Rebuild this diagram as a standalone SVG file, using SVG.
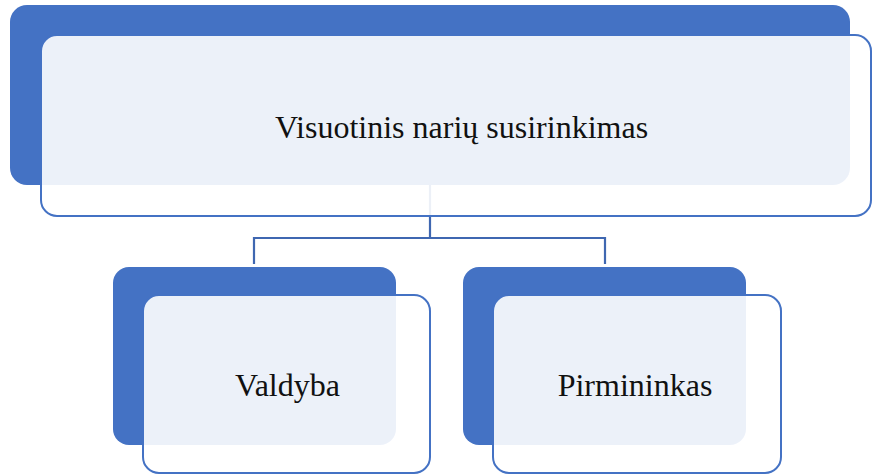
<svg xmlns="http://www.w3.org/2000/svg" width="872" height="474" viewBox="0 0 872 474">
<style>
.back{fill:#4472C4;}
.front{fill:#FFFFFF;fill-opacity:0.9;stroke:#4472C4;stroke-width:2;}
.conn{fill:none;stroke:#3F67B1;stroke-width:2.2;}
.lbl{font-family:"Liberation Serif","Times New Roman",serif;font-size:32px;fill:#111111;text-anchor:middle;}
</style>
<rect width="872" height="474" fill="#FFFFFF"/>
<g id="node-top-back"><rect class="back" x="10" y="5" width="840" height="180" rx="17"/></g>
<g id="connectors">
<path class="conn" d="M430 185 V238 M254 264 V238 H605 V264"/>
</g>
<g id="node-top"><rect class="front" x="41" y="35" width="830" height="181" rx="16"/>
<text class="lbl" x="461.5" y="137.5">Visuotinis narių susirinkimas</text></g>
<g id="node-valdyba"><rect class="back" x="113" y="267" width="283" height="178" rx="16"/>
<rect class="front" x="143" y="295" width="287" height="178" rx="16"/>
<text class="lbl" x="287.5" y="396">Valdyba</text></g>
<g id="node-pirmininkas"><rect class="back" x="463" y="267" width="283" height="178" rx="16"/>
<rect class="front" x="493" y="295" width="288" height="178" rx="16"/>
<text class="lbl" x="635" y="396">Pirmininkas</text></g>
</svg>
